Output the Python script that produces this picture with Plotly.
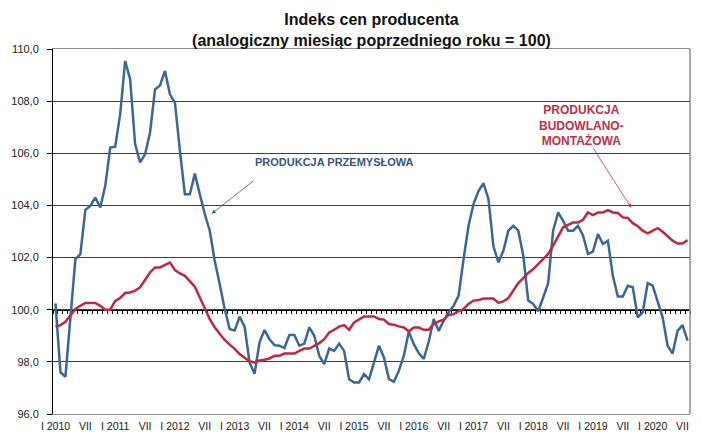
import plotly.graph_objects as go

# --- data (monthly, Jan 2010 - Aug 2020) ---
przemyslowa = [100.24, 97.6, 97.43, 99.8, 101.94, 102.13, 103.83, 103.98, 104.3, 103.92,
               104.75, 106.22, 106.25, 107.5, 109.54, 108.84, 106.35, 105.65, 105.96, 106.8,
               108.45, 108.6, 109.16, 108.26, 107.94, 106.1, 104.43, 104.43, 105.22, 104.43,
               103.67, 103.03, 101.88, 100.98, 100.03, 99.26, 99.2, 99.73, 99.35, 97.98,
               97.54, 98.75, 99.22, 98.87, 98.64, 98.62, 98.53, 99.03, 99.03, 98.62,
               98.7, 99.32, 99.0, 98.23, 97.91, 98.51, 98.42, 98.7, 98.42, 97.33,
               97.21, 97.21, 97.53, 97.33, 97.95, 98.62, 98.17, 97.34, 97.24, 97.66,
               98.24, 99.16, 98.68, 98.34, 98.11, 98.77, 99.64, 99.19, 99.58, 99.9,
               100.15, 100.54, 101.94, 103.22, 104.05, 104.55, 104.85, 104.25, 102.43, 101.82,
               102.26, 103.03, 103.22, 103.03, 102.07, 100.35, 100.22, 99.94, 100.47, 101.02,
               103.03, 103.73, 103.41, 103.03, 103.03, 103.22, 102.85, 102.14, 102.23, 102.9,
               102.52, 102.65, 101.3, 100.51, 100.51, 100.92, 100.86, 99.71, 99.9, 101.02,
               100.92, 100.35, 99.71, 98.62, 98.32, 99.19, 99.41, 98.81]

budowlana = [99.35, 99.41, 99.54, 99.77, 100.03, 100.15, 100.26, 100.26, 100.26, 100.15,
             100.0, 100.0, 100.34, 100.45, 100.64, 100.66, 100.73, 100.86, 101.17, 101.43,
             101.62, 101.62, 101.72, 101.81, 101.52, 101.39, 101.3, 101.11, 100.88, 100.47,
             100.03, 99.64, 99.32, 99.07, 98.84, 98.66, 98.5, 98.3, 98.15, 98.02,
             97.98, 98.05, 98.08, 98.13, 98.23, 98.23, 98.32, 98.32, 98.32, 98.42,
             98.51, 98.51, 98.62, 98.72, 98.87, 99.13, 99.23, 99.35, 99.41, 99.23,
             99.51, 99.62, 99.74, 99.74, 99.74, 99.64, 99.62, 99.45, 99.42, 99.36,
             99.32, 99.17, 99.32, 99.32, 99.23, 99.23, 99.45, 99.55, 99.62, 99.8,
             99.83, 99.94, 100.03, 100.22, 100.35, 100.37, 100.43, 100.43, 100.43, 100.26,
             100.32, 100.45, 100.73, 101.02, 101.21, 101.41, 101.56, 101.75, 101.92, 102.14,
             102.46, 102.81, 103.16, 103.25, 103.35, 103.35, 103.45, 103.73, 103.63, 103.73,
             103.73, 103.82, 103.73, 103.71, 103.54, 103.52, 103.32, 103.2, 103.03, 102.93,
             103.03, 103.13, 102.99, 102.81, 102.65, 102.54, 102.54, 102.67]

years = list(range(2010, 2021))
tick_labels = []
for yr in years:
    tick_labels += ["I " + str(yr), "VII"]

y_min, y_max, y_base = 96, 110, 100

months = list(range(len(przemyslowa)))
tick_positions = list(range(0, len(tick_labels) * 6, 6))

BLUE = "#3A6797"
RED = "#C0283F"
FONT = "Liberation Sans Narrow, Arial Narrow, Liberation Sans, Arial, sans-serif"

fig = go.Figure()
fig.add_trace(go.Scatter(x=months, y=przemyslowa, mode="lines",
                         line=dict(color=BLUE, width=2.5), xaxis="x", yaxis="y",
                         showlegend=False, hoverinfo="skip"))
fig.add_trace(go.Scatter(x=months, y=budowlana, mode="lines",
                         line=dict(color=RED, width=2.5), xaxis="x2", yaxis="y",
                         showlegend=False, hoverinfo="skip"))

xr = [-0.5, len(months) - 0.5]
fig.update_layout(
    width=702, height=432,
    margin=dict(l=53, r=12, t=49, b=18, autoexpand=False),
    paper_bgcolor="white", plot_bgcolor="white",
    separators=", ",
    font=dict(family=FONT, color="#1a1a1a", size=11),
    title=dict(text="<b>Indeks cen producenta<br>(analogiczny miesiąc poprzedniego roku = 100)</b>",
               x=0.5, xref="paper", xanchor="center",
               y=1 - 25 / 432, yref="container", yanchor="top",
               font=dict(family=FONT, size=16, color="#111111")),
    xaxis=dict(range=xr, tickmode="array", tickvals=tick_positions, ticktext=tick_labels,
               showgrid=False, zeroline=False, showline=True, linecolor="#8c8c8c",
               linewidth=1, mirror=True, ticks="", tickfont=dict(size=10.5, color="#1a1a1a"),
               ticklabelstandoff=2, automargin=False),
    xaxis2=dict(range=xr, overlaying="x", anchor="free",
                position=(y_base - y_min) / (y_max - y_min),
                showgrid=False, zeroline=False, showticklabels=False,
                showline=True, linecolor="#000000", linewidth=1.3,
                ticks="outside", ticklen=3, tickwidth=1, tickcolor="#000000",
                tick0=-0.5, dtick=1, layer="below traces", automargin=False),
    yaxis=dict(range=[y_min, y_max], dtick=2, tickformat=".1f",
               showgrid=True, gridcolor="#3f3f3f", gridwidth=1,
               zeroline=False, showline=True, linecolor="#000000", linewidth=1,
               ticks="outside", ticklen=5, tickcolor="#000000",
               ticklabelstandoff=6, automargin=False,
               tickfont=dict(size=11, color="#1a1a1a")),
)

# plot-area right border
fig.add_shape(type="line", xref="paper", yref="paper", x0=1, x1=1, y0=0, y1=1,
              line=dict(color="#8c8c8c", width=1.5))

fig.add_annotation(x=56, y=105.68, xref="x", yref="y", text="<b>PRODUKCJA PRZEMYSŁOWA</b>",
                   showarrow=False, font=dict(family=FONT, size=11, color="#34557d"))
fig.add_annotation(x=31.4, y=103.68, xref="x", yref="y", text="", showarrow=True,
                   ax=43, ay=-34, arrowhead=2, arrowsize=1, arrowwidth=0.8,
                   arrowcolor="#34557d")
fig.add_annotation(x=105.6, y=107.07, xref="x", yref="y",
                   text="<b>PRODUKCJA<br>BUDOWLANO-<br>MONTAŻOWA</b>",
                   showarrow=False, font=dict(family=FONT, size=12, color="#C0304A"))
fig.add_annotation(x=115.7, y=103.91, xref="x", yref="y", text="", showarrow=True,
                   ax=-39, ay=-61, arrowhead=2, arrowsize=1, arrowwidth=0.8,
                   arrowcolor="#C0304A")

fig.write_html("out.html", config={"displayModeBar": False},
               post_script="document.body.style.margin='0px';document.body.style.overflow='hidden';")
